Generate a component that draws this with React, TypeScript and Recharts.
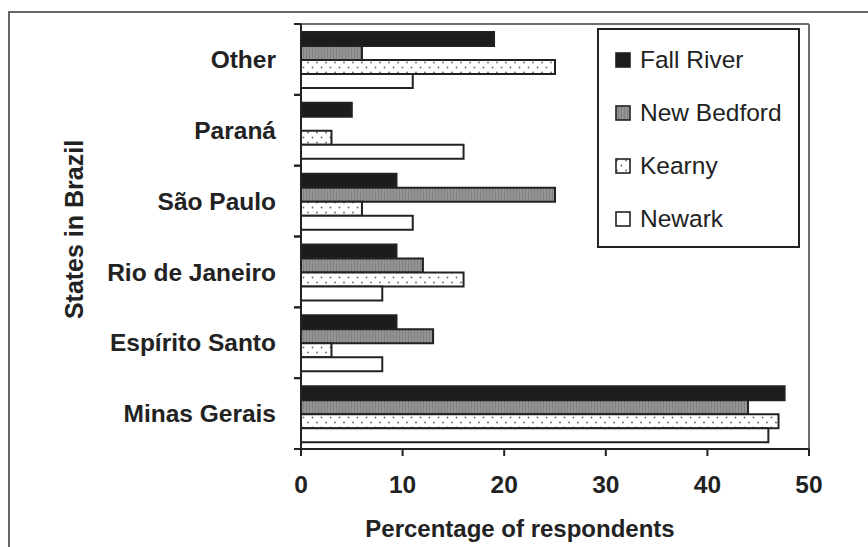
import React from 'react';
import { BarChart, Bar, XAxis, YAxis, Legend, ReferenceArea, ReferenceLine } from 'recharts';

const states = ['Other', 'Paraná', 'São Paulo', 'Rio de Janeiro', 'Espírito Santo', 'Minas Gerais'];
const fallRiver = [19, 5, 9.4, 9.4, 9.4, 47.6];
const newBedford = [6, 0, 25, 12, 13, 44];
const kearny = [25, 3, 6, 16, 3, 47];
const newark = [11, 16, 11, 8, 8, 46];
const xTicks = [0, 10, 20, 30, 40, 50];

const data = states.map((state, i) => ({
  state,
  fallRiver: fallRiver[i],
  newBedford: newBedford[i],
  kearny: kearny[i],
  newark: newark[i],
}));

const series = [
  { key: 'fallRiver', name: 'Fall River', fill: '#1c1c1c' },
  { key: 'newBedford', name: 'New Bedford', fill: 'url(#bedfordTexture)' },
  { key: 'kearny', name: 'Kearny', fill: 'url(#kearnyDots)' },
  { key: 'newark', name: 'Newark', fill: '#ffffff' },
];

const FONT = '"Liberation Sans", Arial, Helvetica, sans-serif';
const CAT_MARGIN = 25;
const EDGE_TICK = 7;

function DotsPattern({ id }: { id: string }) {
  return (
    <pattern id={id} width={9} height={10} patternUnits="userSpaceOnUse">
      <rect width={9} height={10} fill="#ffffff" />
      <circle cx={2} cy={2.5} r={0.9} fill="#6a6a6a" />
      <circle cx={6.5} cy={7.5} r={0.9} fill="#6a6a6a" />
    </pattern>
  );
}

function GreyPattern({ id }: { id: string }) {
  return (
    <pattern id={id} width={3} height={3} patternUnits="userSpaceOnUse">
      <rect width={3} height={3} fill="#949494" />
      <rect width={1} height={3} fill="#828282" />
    </pattern>
  );
}

function LegendBox() {
  return (
    <div
      style={{
        width: 203,
        height: 220,
        border: '2px solid #222',
        boxSizing: 'border-box',
        background: '#fff',
        position: 'relative',
        fontFamily: FONT,
      }}
    >
      {series.map((s, i) => (
        <div
          key={s.key}
          style={{ position: 'absolute', left: 16, top: 16 + i * 53, height: 28, display: 'flex', alignItems: 'center' }}
        >
          <svg width={16} height={16} style={{ marginRight: 9 }}>
            <defs>
              <DotsPattern id="legendDots" />
              <GreyPattern id="legendGrey" />
            </defs>
            <rect
              x={1}
              y={1}
              width={14}
              height={14}
              fill={s.key === 'kearny' ? 'url(#legendDots)' : s.key === 'newBedford' ? 'url(#legendGrey)' : s.fill}
              stroke="#222"
              strokeWidth={1.6}
            />
          </svg>
          <span style={{ fontSize: 24.5, color: '#222', whiteSpace: 'nowrap' }}>{s.name}</span>
        </div>
      ))}
    </div>
  );
}

const XTitle = (props: any) => {
  const vb = props.viewBox;
  return (
    <text x={vb.x + vb.width / 2 - 35} y={vb.y + 88} textAnchor="middle" fontSize={24} fontWeight="bold" fill="#222">
      Percentage of respondents
    </text>
  );
};

const YTitle = (props: any) => {
  const vb = props.viewBox;
  const cx = vb.x + 74;
  const cy = vb.y + vb.height / 2 - 7;
  return (
    <text
      x={cx}
      y={cy}
      textAnchor="middle"
      dominantBaseline="central"
      transform={`rotate(-90, ${cx}, ${cy})`}
      fontSize={25}
      fontWeight="bold"
      fill="#222"
    >
      States in Brazil
    </text>
  );
};

// category label plus Excel-style tick marks on the band edges
const CategoryTick = (props: any) => {
  const { x, y, payload } = props;
  const axisX = x + CAT_MARGIN;
  const half = payload && payload.offset ? payload.offset : 0;
  return (
    <g>
      {half > 0 && (
        <>
          <line x1={axisX - EDGE_TICK} x2={axisX} y1={y - half} y2={y - half} stroke="#222" strokeWidth={2} />
          <line x1={axisX - EDGE_TICK} x2={axisX} y1={y + half} y2={y + half} stroke="#222" strokeWidth={2} />
        </>
      )}
      <text x={x} y={y} dy="0.355em" textAnchor="end" fontSize={24.5} fontWeight="bold" fill="#222">
        {payload.value}
      </text>
    </g>
  );
};

export default function App() {
  return (
    <div
      style={{
        position: 'absolute',
        left: 0,
        top: 0,
        width: 868,
        height: 547,
        overflow: 'hidden',
        background: '#fff',
        fontFamily: FONT,
      }}
    >
      <div
        style={{
          position: 'absolute',
          left: 8,
          top: 11,
          width: 900,
          height: 600,
          borderTop: '2px solid #666',
          borderLeft: '2px solid #666',
        }}
      />
      <div style={{ position: 'absolute', left: 0, top: 0 }}>
        <BarChart
          width={868}
          height={547}
          data={data}
          layout="vertical"
          margin={{ top: 24, right: 59, left: 0, bottom: 0 }}
          barCategoryGap={8}
          barGap={0}
        >
          <defs>
            <DotsPattern id="kearnyDots" />
            <GreyPattern id="bedfordTexture" />
          </defs>
          {/* top edge of the plot frame: the first band's rect, only its top side stroked */}
          <ReferenceArea
            x1={0}
            x2={50}
            y1="Other"
            y2="Other"
            fill="none"
            stroke="#6e6e6e"
            strokeWidth={2}
            strokeDasharray="508 2000"
            ifOverflow="visible"
          />
          {/* right edge of the plot frame */}
          <ReferenceLine x={50} stroke="#6e6e6e" strokeWidth={2} ifOverflow="visible" />
          <XAxis
            type="number"
            domain={[0, 50]}
            ticks={xTicks}
            interval={0}
            height={98}
            tickSize={7}
            tickMargin={20}
            axisLine={{ stroke: '#222', strokeWidth: 2 }}
            tickLine={{ stroke: '#222', strokeWidth: 2 }}
            tick={{ fill: '#222', fontSize: 24.5, fontWeight: 'bold' }}
            label={{ content: XTitle }}
          />
          <YAxis
            type="category"
            dataKey="state"
            width={301}
            axisLine={{ stroke: '#222', strokeWidth: 2 }}
            tickLine={false}
            tickSize={0}
            tickMargin={CAT_MARGIN}
            interval={0}
            tick={CategoryTick}
            label={{ content: YTitle }}
          />
          <Legend
            layout="horizontal"
            verticalAlign="middle"
            align="center"
            content={() => <LegendBox />}
            wrapperStyle={{ position: 'absolute', left: 597, top: 28, width: 203, height: 220 }}
          />
          {series.map((s) => (
            <Bar
              key={s.key}
              dataKey={s.key}
              name={s.name}
              fill={s.fill}
              stroke="#222"
              strokeWidth={2}
              isAnimationActive={false}
            />
          ))}
        </BarChart>
      </div>
    </div>
  );
}
